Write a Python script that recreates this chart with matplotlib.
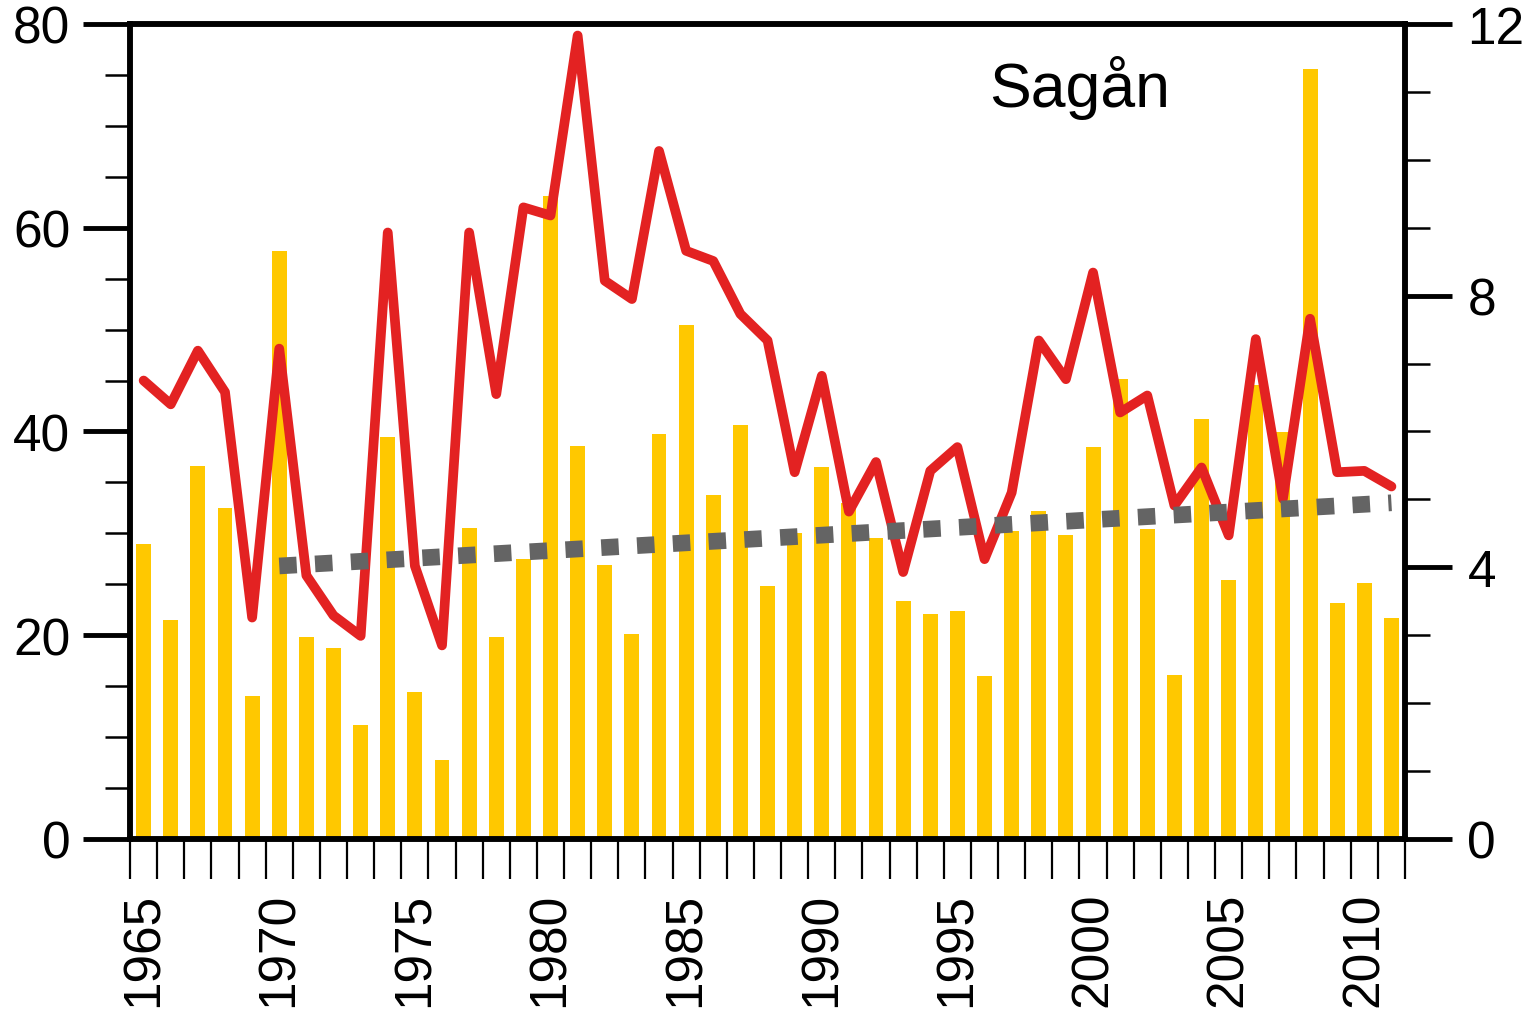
import numpy as np
import matplotlib
matplotlib.use('Agg')
import matplotlib.pyplot as plt
from matplotlib.ticker import MultipleLocator, FixedLocator, NullFormatter

plt.rcParams['font.family'] = ['Liberation Sans', 'DejaVu Sans']

# data
years = np.arange(1965, 2012)
bars = [29.0, 21.5, 36.6, 32.5, 14.0, 57.7, 19.8, 18.7, 11.2, 39.5,
        14.4, 7.8, 30.5, 19.8, 27.5, 63.1, 38.6, 26.9, 20.1, 39.8,
        50.5, 33.8, 40.6, 24.8, 30.0, 36.5, 33.0, 29.5, 23.4, 22.1,
        22.4, 16.0, 30.2, 32.2, 29.8, 38.5, 45.2, 30.4, 16.1, 41.2,
        25.4, 44.6, 39.9, 75.6, 23.2, 25.1, 21.7]
red = [6.75, 6.40, 7.19, 6.58, 3.26, 7.22, 3.88, 3.29, 2.99, 8.93,
       4.02, 2.85, 8.93, 6.55, 9.30, 9.18, 11.83, 8.22, 7.95, 10.13,
       8.66, 8.51, 7.73, 7.34, 5.40, 6.82, 4.82, 5.55, 3.93, 5.42,
       5.77, 4.12, 5.10, 7.34, 6.77, 8.34, 6.28, 6.53, 4.91, 5.47,
       4.47, 7.36, 5.01, 7.66, 5.40, 5.42, 5.19]
trend_years = [1970, 2011]
trend_vals = [4.02, 4.95]
label_years = [1965, 1970, 1975, 1980, 1985, 1990, 1995, 2000, 2005, 2010]

fig = plt.figure(figsize=(15.32, 10.20), dpi=100)
ax = fig.add_axes([0.0849, 0.1765, 0.8322, 0.799])
ax2 = ax.twinx()

ax.bar(years, bars, width=0.55, color='#ffc800', zorder=1)
ax2.plot(years, red, color='#e32222', lw=7, solid_joinstyle='round',
         solid_capstyle='round', zorder=2)
ax2.plot(trend_years, trend_vals, color='#646464', lw=12,
         dashes=(1.05, 1.1), zorder=3)

ax.set_xlim(years[0] - 0.5, years[-1] + 0.5)
ax.set_ylim(0, 80)
ax2.set_ylim(0, 12)

for a in (ax, ax2):
    for s in a.spines.values():
        s.set_linewidth(4.0)

# left axis
ax.yaxis.set_major_locator(MultipleLocator(20))
ax.yaxis.set_minor_locator(MultipleLocator(5))
ax.tick_params(axis='y', which='major', direction='out', length=34, width=3.5,
               labelsize=37, pad=9)
ax.tick_params(axis='y', which='minor', direction='out', length=18, width=1.8)

# right axis
ax2.yaxis.set_major_locator(MultipleLocator(4))
ax2.yaxis.set_minor_locator(MultipleLocator(1))
ax2.tick_params(axis='y', which='major', direction='out', length=34, width=3.5,
                labelsize=37, pad=11)
ax2.tick_params(axis='y', which='minor', direction='out', length=18, width=1.8)

# x axis: ticks at year boundaries, labels at every fifth year
ax.xaxis.set_major_locator(FixedLocator(np.arange(years[0] - 0.5, years[-1] + 1)))
ax.xaxis.set_major_formatter(NullFormatter())
ax.xaxis.set_minor_locator(FixedLocator(label_years))
ax.set_xticklabels([str(y) for y in label_years], minor=True, rotation=90)
ax.tick_params(axis='x', which='major', direction='out', length=29, width=1.6)
ax.tick_params(axis='x', which='minor', length=0, labelsize=37, pad=38)

ax.text(0.745, 0.923, 'Sagån', transform=ax.transAxes, fontsize=45,
        ha='center', va='center')

fig.savefig('out.png', dpi=100)
